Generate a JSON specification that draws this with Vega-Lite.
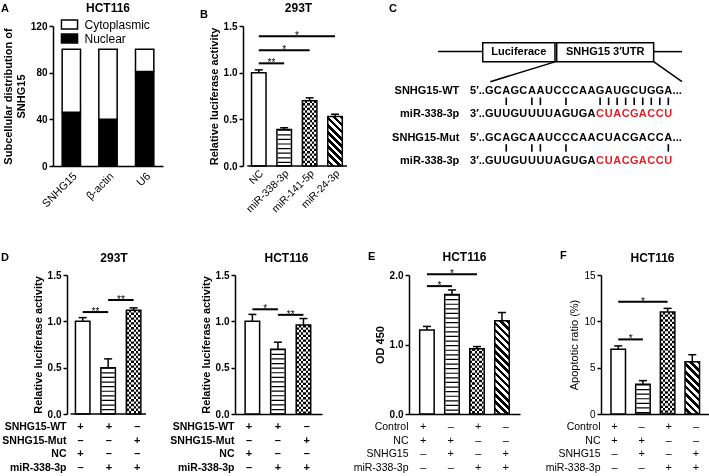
{
"$schema":"https://vega.github.io/schema/vega-lite/v6.json",
"background":"#ffffff",
"padding":{"left":1,"top":2,"right":0,"bottom":0},
"config":{
 "font":"Liberation Sans",
 "view":{"stroke":null},
 "axis":{"domainColor":"#000","domainWidth":1.5,"tickColor":"#000","tickWidth":1.5,"tickSize":4,"labelColor":"#000","labelFontSize":10,"labelFontWeight":"bold","labelPadding":2,"titleColor":"#000","titleFontSize":11,"titleFontWeight":"bold","titlePadding":4,"grid":false,"labelFlush":false},
 "title":{"color":"#000","fontSize":12,"fontWeight":"bold","frame":"group"},
 "text":{"color":"#000"}
},
"datasets":{
 "a":[{"gene":"SNHG15","fraction":"Nuclear","value":46},{"gene":"SNHG15","fraction":"Cytoplasmic","value":54},{"gene":"β-actin","fraction":"Nuclear","value":40},{"gene":"β-actin","fraction":"Cytoplasmic","value":60},{"gene":"U6","fraction":"Nuclear","value":81},{"gene":"U6","fraction":"Cytoplasmic","value":19}],
 "b":[{"pos":1,"group":"NC","value":1.0,"upper":1.03},{"pos":2,"group":"miR-338-3p","value":0.39,"upper":0.41},{"pos":3,"group":"miR-141-5p","value":0.70,"upper":0.73},{"pos":4,"group":"miR-24-3p","value":0.53,"upper":0.555}],
 "b_sig":[{"from":1,"to":2,"level":1.10,"label":"**"},{"from":1,"to":3,"level":1.24,"label":"*"},{"from":1,"to":4,"level":1.39,"label":"*"}],
 "d1":[{"pos":1,"value":1.0,"upper":1.04},{"pos":2,"value":0.50,"upper":0.595},{"pos":3,"value":1.12,"upper":1.145}],
 "d1_sig":[{"from":1,"to":2,"level":1.10,"label":"**"},{"from":2,"to":3,"level":1.23,"label":"**"}],
 "d2":[{"pos":1,"value":1.0,"upper":1.075},{"pos":2,"value":0.70,"upper":0.775},{"pos":3,"value":0.96,"upper":1.03}],
 "d2_sig":[{"from":1,"to":2,"level":1.13,"label":"*"},{"from":2,"to":3,"level":1.07,"label":"**"}],
 "e":[{"pos":1,"value":1.21,"upper":1.26},{"pos":2,"value":1.72,"upper":1.785},{"pos":3,"value":0.94,"upper":0.97},{"pos":4,"value":1.34,"upper":1.46}],
 "e_sig":[{"from":1,"to":2,"level":1.84,"label":"*"},{"from":1,"to":3,"level":2.01,"label":"*"}],
 "f":[{"pos":1,"value":7.0,"upper":7.35},{"pos":2,"value":3.2,"upper":3.6},{"pos":3,"value":11.0,"upper":11.4},{"pos":4,"value":5.65,"upper":6.4}],
 "f_sig":[{"from":1,"to":2,"level":8.05,"label":"*"},{"from":1,"to":3,"level":12.1,"label":"*"}],
 "d_tab":[{"row":"SNHG15-WT","pos":1,"sym":"+"},{"row":"SNHG15-WT","pos":2,"sym":"+"},{"row":"SNHG15-WT","pos":3,"sym":"–"},{"row":"SNHG15-Mut","pos":1,"sym":"–"},{"row":"SNHG15-Mut","pos":2,"sym":"–"},{"row":"SNHG15-Mut","pos":3,"sym":"+"},{"row":"NC","pos":1,"sym":"+"},{"row":"NC","pos":2,"sym":"–"},{"row":"NC","pos":3,"sym":"–"},{"row":"miR-338-3p","pos":1,"sym":"–"},{"row":"miR-338-3p","pos":2,"sym":"+"},{"row":"miR-338-3p","pos":3,"sym":"+"}],
 "ef_tab":[{"row":"Control","pos":1,"sym":"+"},{"row":"Control","pos":2,"sym":"–"},{"row":"Control","pos":3,"sym":"+"},{"row":"Control","pos":4,"sym":"–"},{"row":"NC","pos":1,"sym":"+"},{"row":"NC","pos":2,"sym":"+"},{"row":"NC","pos":3,"sym":"–"},{"row":"NC","pos":4,"sym":"–"},{"row":"SNHG15","pos":1,"sym":"–"},{"row":"SNHG15","pos":2,"sym":"+"},{"row":"SNHG15","pos":3,"sym":"–"},{"row":"SNHG15","pos":4,"sym":"+"},{"row":"miR-338-3p","pos":1,"sym":"–"},{"row":"miR-338-3p","pos":2,"sym":"–"},{"row":"miR-338-3p","pos":3,"sym":"+"},{"row":"miR-338-3p","pos":4,"sym":"+"}],
 "c_lines":[{"x":-6,"y":-0.69,"x2":-0.76,"y2":-0.69},{"x":19.28,"y":-0.69,"x2":22.6,"y2":-0.69},{"x":7.8,"y":-0.26,"x2":0.13,"y2":0.6},{"x":19.28,"y":-0.26,"x2":22.6,"y2":0.6}],
 "c_boxes":[{"label":"Luciferace","x":-0.76,"x2":7.71,"y":-1.07,"y2":-0.26,"cx":3.47,"cy":-0.665},{"label":"SNHG15 3′UTR","x":7.91,"x2":19.28,"y":-1.07,"y2":-0.26,"cx":13.6,"cy":-0.665}],
 "c_rows":[{"r":1,"name":"SNHG15-WT","pre":"5′..","suf":"..."},{"r":2,"name":"miR-338-3p","pre":"3′..","suf":""},{"r":3,"name":"SNHG15-Mut","pre":"5′..","suf":"..."},{"r":4,"name":"miR-338-3p","pre":"3′..","suf":""}],
 "c_pairs":[{"r":1,"c":2},{"r":1,"c":5},{"r":1,"c":6},{"r":1,"c":9},{"r":1,"c":13},{"r":1,"c":14},{"r":1,"c":15},{"r":1,"c":16},{"r":1,"c":17},{"r":1,"c":18},{"r":1,"c":19},{"r":1,"c":20},{"r":1,"c":21},{"r":3,"c":2},{"r":3,"c":5},{"r":3,"c":6},{"r":3,"c":9},{"r":3,"c":21}],
 "c_seq":[
  {"r":1,"c":0,"n":"G"},{"r":1,"c":1,"n":"C"},{"r":1,"c":2,"n":"A"},{"r":1,"c":3,"n":"G"},{"r":1,"c":4,"n":"C"},{"r":1,"c":5,"n":"A"},{"r":1,"c":6,"n":"A"},{"r":1,"c":7,"n":"U"},{"r":1,"c":8,"n":"C"},{"r":1,"c":9,"n":"C"},{"r":1,"c":10,"n":"C"},{"r":1,"c":11,"n":"A"},{"r":1,"c":12,"n":"A"},{"r":1,"c":13,"n":"G"},{"r":1,"c":14,"n":"A"},{"r":1,"c":15,"n":"U"},{"r":1,"c":16,"n":"G"},{"r":1,"c":17,"n":"C"},{"r":1,"c":18,"n":"U"},{"r":1,"c":19,"n":"G"},{"r":1,"c":20,"n":"G"},{"r":1,"c":21,"n":"A"},
  {"r":2,"c":0,"n":"G"},{"r":2,"c":1,"n":"U"},{"r":2,"c":2,"n":"U"},{"r":2,"c":3,"n":"G"},{"r":2,"c":4,"n":"U"},{"r":2,"c":5,"n":"U"},{"r":2,"c":6,"n":"U"},{"r":2,"c":7,"n":"U"},{"r":2,"c":8,"n":"A"},{"r":2,"c":9,"n":"G"},{"r":2,"c":10,"n":"U"},{"r":2,"c":11,"n":"G"},{"r":2,"c":12,"n":"A"},{"r":2,"c":13,"n":"C","s":1},{"r":2,"c":14,"n":"U","s":1},{"r":2,"c":15,"n":"A","s":1},{"r":2,"c":16,"n":"C","s":1},{"r":2,"c":17,"n":"G","s":1},{"r":2,"c":18,"n":"A","s":1},{"r":2,"c":19,"n":"C","s":1},{"r":2,"c":20,"n":"C","s":1},{"r":2,"c":21,"n":"U","s":1},
  {"r":3,"c":0,"n":"G"},{"r":3,"c":1,"n":"C"},{"r":3,"c":2,"n":"A"},{"r":3,"c":3,"n":"G"},{"r":3,"c":4,"n":"C"},{"r":3,"c":5,"n":"A"},{"r":3,"c":6,"n":"A"},{"r":3,"c":7,"n":"U"},{"r":3,"c":8,"n":"C"},{"r":3,"c":9,"n":"C"},{"r":3,"c":10,"n":"C"},{"r":3,"c":11,"n":"A"},{"r":3,"c":12,"n":"A"},{"r":3,"c":13,"n":"C"},{"r":3,"c":14,"n":"U"},{"r":3,"c":15,"n":"A"},{"r":3,"c":16,"n":"C"},{"r":3,"c":17,"n":"G"},{"r":3,"c":18,"n":"A"},{"r":3,"c":19,"n":"C"},{"r":3,"c":20,"n":"C"},{"r":3,"c":21,"n":"A"},
  {"r":4,"c":0,"n":"G"},{"r":4,"c":1,"n":"U"},{"r":4,"c":2,"n":"U"},{"r":4,"c":3,"n":"G"},{"r":4,"c":4,"n":"U"},{"r":4,"c":5,"n":"U"},{"r":4,"c":6,"n":"U"},{"r":4,"c":7,"n":"U"},{"r":4,"c":8,"n":"A"},{"r":4,"c":9,"n":"G"},{"r":4,"c":10,"n":"U"},{"r":4,"c":11,"n":"G"},{"r":4,"c":12,"n":"A"},{"r":4,"c":13,"n":"C","s":1},{"r":4,"c":14,"n":"U","s":1},{"r":4,"c":15,"n":"A","s":1},{"r":4,"c":16,"n":"C","s":1},{"r":4,"c":17,"n":"G","s":1},{"r":4,"c":18,"n":"A","s":1},{"r":4,"c":19,"n":"C","s":1},{"r":4,"c":20,"n":"C","s":1},{"r":4,"c":21,"n":"U","s":1}
 ]
},
"columns":8,
"spacing":{"row":6,"column":0},
"bounds":"flush",
"align":{"row":"each","column":"each"},
"concat":[
 {"width":52,"height":140,"data":{"values":[]},"mark":{"type":"rect","opacity":0},"title":{"text":"A","anchor":"start","fontSize":11,"offset":12.5,"dx":0}},
 {"width":110,"height":140,
  "title":{"text":"HCT116","offset":6},
  "data":{"name":"a"},
  "mark":{"type":"bar","stroke":"#000","strokeWidth":1.5},
  "encoding":{
   "x":{"field":"gene","type":"nominal","sort":["SNHG15","β-actin","U6"],"scale":{"paddingInner":0.5,"paddingOuter":0.25},"axis":{"title":null,"labelAngle":-45,"ticks":false,"labelFontSize":11,"labelFontWeight":"normal","labelPadding":4}},
   "y":{"field":"value","type":"quantitative","stack":"zero","scale":{"domain":[0,120],"nice":false},"axis":{"values":[0,40,80,120],"title":["Subcellular distribution of","SNHG15"]}},
   "color":{"field":"fraction","type":"nominal","scale":{"domain":["Cytoplasmic","Nuclear"],"range":["#ffffff","#000000"]},"legend":{"orient":"none","legendX":62,"legendY":-8,"padding":0,"title":null,"symbolType":"M-1.4,-0.77H1.4V0.77H-1.4Z","symbolSize":132,"symbolStrokeColor":"#000","symbolStrokeWidth":1.5,"labelFontSize":12,"labelFontWeight":"normal","labelColor":"#000","labelOffset":8.5,"rowPadding":-1}},
   "order":{"field":"fraction","sort":"descending"}
  }},
 {"width":72,"height":140,"data":{"values":[]},"mark":{"type":"rect","opacity":0},"title":{"text":"B","anchor":"start","fontSize":11,"offset":6,"dx":37}},
 {"width":117,"height":140,
  "title":{"text":"293T","offset":6,"dx":5},
  "layer":[
   {"data":{"name":"b"},"mark":{"type":"bar","orient":"vertical","size":14.5,"fill":"#fff"},
    "encoding":{"x":{"field":"pos","type":"quantitative","scale":{"domain":[0.262,4.47],"nice":false,"zero":false},"axis":null},
     "y":{"field":"value","type":"quantitative","scale":{"domain":[0,1.5],"nice":false},"axis":{"values":[0,0.5,1,1.5],"format":".1f","title":"Relative luciferase activity","offset":-8}}}},
   {"data":{"values":[{}]},"mark":{"type":"rule","strokeWidth":1.5,"color":"#000"},"encoding":{"x":{"datum":0.55},"x2":{"datum":4.47},"y":{"datum":0}}},
   {"data":{"name":"b"},"mark":{"type":"text","angle":315,"align":"right","baseline":"middle","fontSize":10.5,"color":"#000","xOffset":3,"yOffset":6},"encoding":{"x":{"field":"pos","type":"quantitative"},"y":{"datum":0},"text":{"field":"group"}}},
   {"data":{"name":"b"},"transform":[{"filter":"datum.pos == 2"}],"mark":{"type":"rule","strokeWidth":13,"strokeDash":[1.2,3.4],"color":"#000"},"encoding":{"x":{"field":"pos","type":"quantitative"},"y":{"field":"value","type":"quantitative"},"y2":{"datum":0}}},
   {"data":{"name":"b"},"transform":[{"filter":"datum.pos == 3"}],"mark":{"type":"rule","strokeWidth":13,"strokeDash":[2.4,2.4],"color":"#000"},"encoding":{"x":{"field":"pos","type":"quantitative"},"y":{"field":"value","type":"quantitative"},"y2":{"datum":0}}},
   {"data":{"name":"b"},"transform":[{"filter":"datum.pos == 3"}],"mark":{"type":"bar","orient":"vertical","size":14.5,"blend":"difference","fill":{"gradient":"linear","x1":0,"y1":0,"x2":1,"y2":0,"stops":[{"offset":0,"color":"#fff"},{"offset":0.1667,"color":"#fff"},{"offset":0.1667,"color":"#000"},{"offset":0.3333,"color":"#000"},{"offset":0.3333,"color":"#fff"},{"offset":0.5,"color":"#fff"},{"offset":0.5,"color":"#000"},{"offset":0.6667,"color":"#000"},{"offset":0.6667,"color":"#fff"},{"offset":0.8333,"color":"#fff"},{"offset":0.8333,"color":"#000"},{"offset":1,"color":"#000"}]}},"encoding":{"x":{"field":"pos","type":"quantitative"},"y":{"field":"value","type":"quantitative"}}},
   {"data":{"name":"b"},"transform":[{"filter":"datum.pos == 4"}],"mark":{"type":"bar","orient":"vertical","size":14.5,"fill":{"gradient":"linear","x1":0,"y1":1,"x2":0.349,"y2":-0.191,"stops":[{"offset":0,"color":"#fff"},{"offset":0.0556,"color":"#fff"},{"offset":0.0556,"color":"#000"},{"offset":0.1111,"color":"#000"},{"offset":0.1111,"color":"#fff"},{"offset":0.1667,"color":"#fff"},{"offset":0.1667,"color":"#000"},{"offset":0.2222,"color":"#000"},{"offset":0.2222,"color":"#fff"},{"offset":0.2778,"color":"#fff"},{"offset":0.2778,"color":"#000"},{"offset":0.3333,"color":"#000"},{"offset":0.3333,"color":"#fff"},{"offset":0.3889,"color":"#fff"},{"offset":0.3889,"color":"#000"},{"offset":0.4444,"color":"#000"},{"offset":0.4444,"color":"#fff"},{"offset":0.5,"color":"#fff"},{"offset":0.5,"color":"#000"},{"offset":0.5556,"color":"#000"},{"offset":0.5556,"color":"#fff"},{"offset":0.6111,"color":"#fff"},{"offset":0.6111,"color":"#000"},{"offset":0.6667,"color":"#000"},{"offset":0.6667,"color":"#fff"},{"offset":0.7222,"color":"#fff"},{"offset":0.7222,"color":"#000"},{"offset":0.7778,"color":"#000"},{"offset":0.7778,"color":"#fff"},{"offset":0.8333,"color":"#fff"},{"offset":0.8333,"color":"#000"},{"offset":0.8889,"color":"#000"},{"offset":0.8889,"color":"#fff"},{"offset":0.9444,"color":"#fff"},{"offset":0.9444,"color":"#000"},{"offset":1,"color":"#000"}]}},"encoding":{"x":{"field":"pos","type":"quantitative"},"y":{"field":"value","type":"quantitative"}}},
   {"data":{"name":"b"},"mark":{"type":"bar","orient":"vertical","size":14.5,"fillOpacity":0,"stroke":"#000","strokeWidth":1.5},"encoding":{"x":{"field":"pos","type":"quantitative"},"y":{"field":"value","type":"quantitative"}}},
   {"data":{"name":"b"},"mark":{"type":"rule","strokeWidth":1.5,"color":"#000"},"encoding":{"x":{"field":"pos","type":"quantitative"},"y":{"field":"value","type":"quantitative"},"y2":{"field":"upper"}}},
   {"data":{"name":"b"},"mark":{"type":"tick","orient":"horizontal","size":8,"thickness":1.5,"color":"#000","opacity":1},"encoding":{"x":{"field":"pos","type":"quantitative"},"y":{"field":"upper","type":"quantitative"}}},
   {"data":{"name":"b_sig"},"mark":{"type":"rule","strokeWidth":2,"color":"#000"},"encoding":{"x":{"field":"from","type":"quantitative"},"x2":{"field":"to"},"y":{"field":"level","type":"quantitative"}}},
   {"data":{"name":"b_sig"},"transform":[{"fold":["from","to"],"as":["end","pos"]}],"mark":{"type":"text","fontSize":10,"color":"#000","baseline":"alphabetic","dy":3},"encoding":{"x":{"aggregate":"mean","field":"pos","type":"quantitative"},"y":{"field":"level","type":"quantitative"},"text":{"field":"label"}}}
  ]},
 {"width":57,"height":140,"data":{"values":[]},"mark":{"type":"rect","opacity":0},"title":{"text":"C","anchor":"start","fontSize":11,"offset":12.5,"dx":37}},
 {"width":111,"height":140,
  "layer":[
   {"data":{"name":"c_lines"},"mark":{"type":"rule","strokeWidth":1.5,"color":"#000"},"encoding":{"x":{"field":"x","type":"quantitative","scale":{"domain":[-9.402,3.611],"nice":false,"zero":false},"axis":null},"y":{"field":"y","type":"quantitative","scale":{"domain":[-1.79,4.22],"nice":false,"zero":false,"reverse":true},"axis":null},"x2":{"field":"x2"},"y2":{"field":"y2"}}},
   {"data":{"name":"c_boxes"},"mark":{"type":"rect","fill":"#fff","stroke":"#000","strokeWidth":1.5},"encoding":{"x":{"field":"x","type":"quantitative"},"x2":{"field":"x2"},"y":{"field":"y","type":"quantitative"},"y2":{"field":"y2"}}},
   {"data":{"name":"c_boxes"},"mark":{"type":"text","fontSize":11,"fontWeight":"bold","color":"#000","baseline":"middle","align":"center"},"encoding":{"x":{"field":"cx","type":"quantitative"},"y":{"field":"cy","type":"quantitative"},"text":{"field":"label"}}},
   {"data":{"name":"c_seq"},"mark":{"type":"text","fontSize":11,"fontWeight":"bold","baseline":"middle","align":"center"},"encoding":{"x":{"field":"c","type":"quantitative"},"y":{"field":"r","type":"quantitative"},"text":{"field":"n"},"color":{"condition":{"test":"datum.s == 1","value":"#e31e24"},"value":"#000"}}},
   {"data":{"name":"c_rows"},"mark":{"type":"text","fontSize":11,"fontWeight":"bold","baseline":"middle","align":"right","color":"#000"},"encoding":{"x":{"datum":-3.5},"y":{"field":"r","type":"quantitative"},"text":{"field":"name"}}},
   {"data":{"name":"c_rows"},"mark":{"type":"text","fontSize":11,"fontWeight":"bold","baseline":"middle","align":"right","color":"#000"},"encoding":{"x":{"datum":-0.5},"y":{"field":"r","type":"quantitative"},"text":{"field":"pre"}}},
   {"data":{"name":"c_rows"},"mark":{"type":"text","fontSize":11,"fontWeight":"bold","baseline":"middle","align":"left","color":"#000"},"encoding":{"x":{"datum":21.5},"y":{"field":"r","type":"quantitative"},"text":{"field":"suf"}}},
   {"data":{"name":"c_pairs"},"mark":{"type":"tick","orient":"vertical","size":7.5,"thickness":1.6,"color":"#000","opacity":1,"yOffset":10.3},"encoding":{"x":{"field":"c","type":"quantitative"},"y":{"field":"r","type":"quantitative"}}}
  ]},
 {"width":81,"height":140,"data":{"values":[]},"mark":{"type":"rect","opacity":0}},
 {"width":1,"height":243,"data":{"values":[]},"mark":{"type":"rect","opacity":0}},

 {"width":52,"height":139,"data":{"values":[]},"mark":{"type":"rect","opacity":0},"title":{"text":"D","anchor":"start","fontSize":11,"offset":12,"dx":0}},
 {"width":98,"height":139,"title":{"text":"293T","offset":5,"dx":12},
  "layer":[
   {"data":{"name":"d1"},"mark":{"type":"bar","orient":"vertical","size":14.5,"fill":"#fff"},
    "encoding":{"x":{"field":"pos","type":"quantitative","scale":{"domain":[0.03,3.487],"nice":false,"zero":false},"axis":null},
     "y":{"field":"value","type":"quantitative","scale":{"domain":[0,1.5],"nice":false},"axis":{"values":[0,0.5,1,1.5],"format":".1f","title":"Relative luciferase activity","offset":-14}}}},
   {"data":{"values":[{}]},"mark":{"type":"rule","strokeWidth":1.5,"color":"#000"},"encoding":{"x":{"datum":0.524},"x2":{"datum":3.487},"y":{"datum":0}}},
   {"data":{"name":"d1"},"transform":[{"filter":"datum.pos == 2"}],"mark":{"type":"rule","strokeWidth":13,"strokeDash":[1.2,3.4],"color":"#000"},"encoding":{"x":{"field":"pos","type":"quantitative"},"y":{"field":"value","type":"quantitative"},"y2":{"datum":0}}},
   {"data":{"name":"d1"},"transform":[{"filter":"datum.pos == 3"}],"mark":{"type":"rule","strokeWidth":13,"strokeDash":[2.4,2.4],"color":"#000"},"encoding":{"x":{"field":"pos","type":"quantitative"},"y":{"field":"value","type":"quantitative"},"y2":{"datum":0}}},
   {"data":{"name":"d1"},"transform":[{"filter":"datum.pos == 3"}],"mark":{"type":"bar","orient":"vertical","size":14.5,"blend":"difference","fill":{"gradient":"linear","x1":0,"y1":0,"x2":1,"y2":0,"stops":[{"offset":0,"color":"#fff"},{"offset":0.1667,"color":"#fff"},{"offset":0.1667,"color":"#000"},{"offset":0.3333,"color":"#000"},{"offset":0.3333,"color":"#fff"},{"offset":0.5,"color":"#fff"},{"offset":0.5,"color":"#000"},{"offset":0.6667,"color":"#000"},{"offset":0.6667,"color":"#fff"},{"offset":0.8333,"color":"#fff"},{"offset":0.8333,"color":"#000"},{"offset":1,"color":"#000"}]}},"encoding":{"x":{"field":"pos","type":"quantitative"},"y":{"field":"value","type":"quantitative"}}},
   {"data":{"name":"d1"},"mark":{"type":"bar","orient":"vertical","size":14.5,"fillOpacity":0,"stroke":"#000","strokeWidth":1.5},"encoding":{"x":{"field":"pos","type":"quantitative"},"y":{"field":"value","type":"quantitative"}}},
   {"data":{"name":"d1"},"mark":{"type":"rule","strokeWidth":1.5,"color":"#000"},"encoding":{"x":{"field":"pos","type":"quantitative"},"y":{"field":"value","type":"quantitative"},"y2":{"field":"upper"}}},
   {"data":{"name":"d1"},"mark":{"type":"tick","orient":"horizontal","size":8,"thickness":1.5,"color":"#000","opacity":1},"encoding":{"x":{"field":"pos","type":"quantitative"},"y":{"field":"upper","type":"quantitative"}}},
   {"data":{"name":"d1_sig"},"mark":{"type":"rule","strokeWidth":2,"color":"#000"},"encoding":{"x":{"field":"from","type":"quantitative"},"x2":{"field":"to"},"y":{"field":"level","type":"quantitative"}}},
   {"data":{"name":"d1_sig"},"transform":[{"fold":["from","to"],"as":["end","pos"]}],"mark":{"type":"text","fontSize":10,"color":"#000","baseline":"alphabetic","dy":3},"encoding":{"x":{"aggregate":"mean","field":"pos","type":"quantitative"},"y":{"field":"level","type":"quantitative"},"text":{"field":"label"}}}
  ]},
 {"width":72,"height":139,"data":{"values":[]},"mark":{"type":"rect","opacity":0}},
 {"width":87,"height":139,"title":{"text":"HCT116","offset":5,"dx":8},
  "layer":[
   {"data":{"name":"d2"},"mark":{"type":"bar","orient":"vertical","size":14.5,"fill":"#fff"},
    "encoding":{"x":{"field":"pos","type":"quantitative","scale":{"domain":[0.515,3.53],"nice":false,"zero":false},"axis":{"labels":false,"ticks":false,"title":null}},
     "y":{"field":"value","type":"quantitative","scale":{"domain":[0,1.5],"nice":false},"axis":{"values":[0,0.5,1,1.5],"format":".1f","title":"Relative luciferase activity"}}}},
   {"data":{"name":"d2"},"transform":[{"filter":"datum.pos == 2"}],"mark":{"type":"rule","strokeWidth":13,"strokeDash":[1.2,3.4],"color":"#000"},"encoding":{"x":{"field":"pos","type":"quantitative"},"y":{"field":"value","type":"quantitative"},"y2":{"datum":0}}},
   {"data":{"name":"d2"},"transform":[{"filter":"datum.pos == 3"}],"mark":{"type":"rule","strokeWidth":13,"strokeDash":[2.4,2.4],"color":"#000"},"encoding":{"x":{"field":"pos","type":"quantitative"},"y":{"field":"value","type":"quantitative"},"y2":{"datum":0}}},
   {"data":{"name":"d2"},"transform":[{"filter":"datum.pos == 3"}],"mark":{"type":"bar","orient":"vertical","size":14.5,"blend":"difference","fill":{"gradient":"linear","x1":0,"y1":0,"x2":1,"y2":0,"stops":[{"offset":0,"color":"#fff"},{"offset":0.1667,"color":"#fff"},{"offset":0.1667,"color":"#000"},{"offset":0.3333,"color":"#000"},{"offset":0.3333,"color":"#fff"},{"offset":0.5,"color":"#fff"},{"offset":0.5,"color":"#000"},{"offset":0.6667,"color":"#000"},{"offset":0.6667,"color":"#fff"},{"offset":0.8333,"color":"#fff"},{"offset":0.8333,"color":"#000"},{"offset":1,"color":"#000"}]}},"encoding":{"x":{"field":"pos","type":"quantitative"},"y":{"field":"value","type":"quantitative"}}},
   {"data":{"name":"d2"},"mark":{"type":"bar","orient":"vertical","size":14.5,"fillOpacity":0,"stroke":"#000","strokeWidth":1.5},"encoding":{"x":{"field":"pos","type":"quantitative"},"y":{"field":"value","type":"quantitative"}}},
   {"data":{"name":"d2"},"mark":{"type":"rule","strokeWidth":1.5,"color":"#000"},"encoding":{"x":{"field":"pos","type":"quantitative"},"y":{"field":"value","type":"quantitative"},"y2":{"field":"upper"}}},
   {"data":{"name":"d2"},"mark":{"type":"tick","orient":"horizontal","size":8,"thickness":1.5,"color":"#000","opacity":1},"encoding":{"x":{"field":"pos","type":"quantitative"},"y":{"field":"upper","type":"quantitative"}}},
   {"data":{"name":"d2_sig"},"mark":{"type":"rule","strokeWidth":2,"color":"#000"},"encoding":{"x":{"field":"from","type":"quantitative"},"x2":{"field":"to"},"y":{"field":"level","type":"quantitative"}}},
   {"data":{"name":"d2_sig"},"transform":[{"fold":["from","to"],"as":["end","pos"]}],"mark":{"type":"text","fontSize":10,"color":"#000","baseline":"alphabetic","dy":3},"encoding":{"x":{"aggregate":"mean","field":"pos","type":"quantitative"},"y":{"field":"level","type":"quantitative"},"text":{"field":"label"}}}
  ]},
 {"width":57,"height":139,"data":{"values":[]},"mark":{"type":"rect","opacity":0},"title":{"text":"E","anchor":"start","fontSize":11,"offset":13.5,"dx":16}},
 {"width":111,"height":139,"title":{"text":"HCT116","offset":5},
  "layer":[
   {"data":{"name":"e"},"mark":{"type":"bar","orient":"vertical","size":14.5,"fill":"#fff"},
    "encoding":{"x":{"field":"pos","type":"quantitative","scale":{"domain":[0.484,4.52],"nice":false,"zero":false},"axis":{"labels":false,"ticks":false,"title":null}},
     "y":{"field":"value","type":"quantitative","scale":{"domain":[0,2],"nice":false},"axis":{"values":[0,0.5,1,1.5,2],"format":".1f","title":"OD 450"}}}},
   {"data":{"name":"e"},"transform":[{"filter":"datum.pos == 2"}],"mark":{"type":"rule","strokeWidth":13,"strokeDash":[1.2,3.4],"color":"#000"},"encoding":{"x":{"field":"pos","type":"quantitative"},"y":{"field":"value","type":"quantitative"},"y2":{"datum":0}}},
   {"data":{"name":"e"},"transform":[{"filter":"datum.pos == 3"}],"mark":{"type":"rule","strokeWidth":13,"strokeDash":[2.4,2.4],"color":"#000"},"encoding":{"x":{"field":"pos","type":"quantitative"},"y":{"field":"value","type":"quantitative"},"y2":{"datum":0}}},
   {"data":{"name":"e"},"transform":[{"filter":"datum.pos == 3"}],"mark":{"type":"bar","orient":"vertical","size":14.5,"blend":"difference","fill":{"gradient":"linear","x1":0,"y1":0,"x2":1,"y2":0,"stops":[{"offset":0,"color":"#fff"},{"offset":0.1667,"color":"#fff"},{"offset":0.1667,"color":"#000"},{"offset":0.3333,"color":"#000"},{"offset":0.3333,"color":"#fff"},{"offset":0.5,"color":"#fff"},{"offset":0.5,"color":"#000"},{"offset":0.6667,"color":"#000"},{"offset":0.6667,"color":"#fff"},{"offset":0.8333,"color":"#fff"},{"offset":0.8333,"color":"#000"},{"offset":1,"color":"#000"}]}},"encoding":{"x":{"field":"pos","type":"quantitative"},"y":{"field":"value","type":"quantitative"}}},
   {"data":{"name":"e"},"transform":[{"filter":"datum.pos == 4"}],"mark":{"type":"bar","orient":"vertical","size":14.5,"fill":{"gradient":"linear","x1":0,"y1":1,"x2":0.1757,"y2":-0.128,"stops":[{"offset":0,"color":"#fff"},{"offset":0.0333,"color":"#fff"},{"offset":0.0333,"color":"#000"},{"offset":0.0667,"color":"#000"},{"offset":0.0667,"color":"#fff"},{"offset":0.1,"color":"#fff"},{"offset":0.1,"color":"#000"},{"offset":0.1333,"color":"#000"},{"offset":0.1333,"color":"#fff"},{"offset":0.1667,"color":"#fff"},{"offset":0.1667,"color":"#000"},{"offset":0.2,"color":"#000"},{"offset":0.2,"color":"#fff"},{"offset":0.2333,"color":"#fff"},{"offset":0.2333,"color":"#000"},{"offset":0.2667,"color":"#000"},{"offset":0.2667,"color":"#fff"},{"offset":0.3,"color":"#fff"},{"offset":0.3,"color":"#000"},{"offset":0.3333,"color":"#000"},{"offset":0.3333,"color":"#fff"},{"offset":0.3667,"color":"#fff"},{"offset":0.3667,"color":"#000"},{"offset":0.4,"color":"#000"},{"offset":0.4,"color":"#fff"},{"offset":0.4333,"color":"#fff"},{"offset":0.4333,"color":"#000"},{"offset":0.4667,"color":"#000"},{"offset":0.4667,"color":"#fff"},{"offset":0.5,"color":"#fff"},{"offset":0.5,"color":"#000"},{"offset":0.5333,"color":"#000"},{"offset":0.5333,"color":"#fff"},{"offset":0.5667,"color":"#fff"},{"offset":0.5667,"color":"#000"},{"offset":0.6,"color":"#000"},{"offset":0.6,"color":"#fff"},{"offset":0.6333,"color":"#fff"},{"offset":0.6333,"color":"#000"},{"offset":0.6667,"color":"#000"},{"offset":0.6667,"color":"#fff"},{"offset":0.7,"color":"#fff"},{"offset":0.7,"color":"#000"},{"offset":0.7333,"color":"#000"},{"offset":0.7333,"color":"#fff"},{"offset":0.7667,"color":"#fff"},{"offset":0.7667,"color":"#000"},{"offset":0.8,"color":"#000"},{"offset":0.8,"color":"#fff"},{"offset":0.8333,"color":"#fff"},{"offset":0.8333,"color":"#000"},{"offset":0.8667,"color":"#000"},{"offset":0.8667,"color":"#fff"},{"offset":0.9,"color":"#fff"},{"offset":0.9,"color":"#000"},{"offset":0.9333,"color":"#000"},{"offset":0.9333,"color":"#fff"},{"offset":0.9667,"color":"#fff"},{"offset":0.9667,"color":"#000"},{"offset":1,"color":"#000"}]}},"encoding":{"x":{"field":"pos","type":"quantitative"},"y":{"field":"value","type":"quantitative"}}},
   {"data":{"name":"e"},"mark":{"type":"bar","orient":"vertical","size":14.5,"fillOpacity":0,"stroke":"#000","strokeWidth":1.5},"encoding":{"x":{"field":"pos","type":"quantitative"},"y":{"field":"value","type":"quantitative"}}},
   {"data":{"name":"e"},"mark":{"type":"rule","strokeWidth":1.5,"color":"#000"},"encoding":{"x":{"field":"pos","type":"quantitative"},"y":{"field":"value","type":"quantitative"},"y2":{"field":"upper"}}},
   {"data":{"name":"e"},"mark":{"type":"tick","orient":"horizontal","size":8,"thickness":1.5,"color":"#000","opacity":1},"encoding":{"x":{"field":"pos","type":"quantitative"},"y":{"field":"upper","type":"quantitative"}}},
   {"data":{"name":"e_sig"},"mark":{"type":"rule","strokeWidth":2,"color":"#000"},"encoding":{"x":{"field":"from","type":"quantitative"},"x2":{"field":"to"},"y":{"field":"level","type":"quantitative"}}},
   {"data":{"name":"e_sig"},"transform":[{"fold":["from","to"],"as":["end","pos"]}],"mark":{"type":"text","fontSize":10,"color":"#000","baseline":"alphabetic","dy":3},"encoding":{"x":{"aggregate":"mean","field":"pos","type":"quantitative"},"y":{"field":"level","type":"quantitative"},"text":{"field":"label"}}}
  ]},
 {"width":81,"height":139,"data":{"values":[]},"mark":{"type":"rect","opacity":0},"title":{"text":"F","anchor":"start","fontSize":11,"offset":14.5,"dx":40}},
 {"width":109,"height":139,"title":{"text":"HCT116","offset":5,"dx":-3},
  "layer":[
   {"data":{"name":"f"},"mark":{"type":"bar","orient":"vertical","size":14.5,"fill":"#fff"},
    "encoding":{"x":{"field":"pos","type":"quantitative","scale":{"domain":[0.504,4.515],"nice":false,"zero":false},"axis":{"labels":false,"ticks":false,"title":null}},
     "y":{"field":"value","type":"quantitative","scale":{"domain":[0,15],"nice":false},"axis":{"values":[0,5,10,15],"title":"Apoptotic ratio (%)","labelFontWeight":"normal","titleFontWeight":"normal"}}}},
   {"data":{"name":"f"},"transform":[{"filter":"datum.pos == 2"}],"mark":{"type":"rule","strokeWidth":13,"strokeDash":[1.2,3.4],"color":"#000"},"encoding":{"x":{"field":"pos","type":"quantitative"},"y":{"field":"value","type":"quantitative"},"y2":{"datum":0}}},
   {"data":{"name":"f"},"transform":[{"filter":"datum.pos == 3"}],"mark":{"type":"rule","strokeWidth":13,"strokeDash":[2.4,2.4],"color":"#000"},"encoding":{"x":{"field":"pos","type":"quantitative"},"y":{"field":"value","type":"quantitative"},"y2":{"datum":0}}},
   {"data":{"name":"f"},"transform":[{"filter":"datum.pos == 3"}],"mark":{"type":"bar","orient":"vertical","size":14.5,"blend":"difference","fill":{"gradient":"linear","x1":0,"y1":0,"x2":1,"y2":0,"stops":[{"offset":0,"color":"#fff"},{"offset":0.1667,"color":"#fff"},{"offset":0.1667,"color":"#000"},{"offset":0.3333,"color":"#000"},{"offset":0.3333,"color":"#fff"},{"offset":0.5,"color":"#fff"},{"offset":0.5,"color":"#000"},{"offset":0.6667,"color":"#000"},{"offset":0.6667,"color":"#fff"},{"offset":0.8333,"color":"#fff"},{"offset":0.8333,"color":"#000"},{"offset":1,"color":"#000"}]}},"encoding":{"x":{"field":"pos","type":"quantitative"},"y":{"field":"value","type":"quantitative"}}},
   {"data":{"name":"f"},"transform":[{"filter":"datum.pos == 4"}],"mark":{"type":"bar","orient":"vertical","size":14.5,"fill":{"gradient":"linear","x1":0,"y1":1,"x2":0.328,"y2":-0.186,"stops":[{"offset":0,"color":"#fff"},{"offset":0.0556,"color":"#fff"},{"offset":0.0556,"color":"#000"},{"offset":0.1111,"color":"#000"},{"offset":0.1111,"color":"#fff"},{"offset":0.1667,"color":"#fff"},{"offset":0.1667,"color":"#000"},{"offset":0.2222,"color":"#000"},{"offset":0.2222,"color":"#fff"},{"offset":0.2778,"color":"#fff"},{"offset":0.2778,"color":"#000"},{"offset":0.3333,"color":"#000"},{"offset":0.3333,"color":"#fff"},{"offset":0.3889,"color":"#fff"},{"offset":0.3889,"color":"#000"},{"offset":0.4444,"color":"#000"},{"offset":0.4444,"color":"#fff"},{"offset":0.5,"color":"#fff"},{"offset":0.5,"color":"#000"},{"offset":0.5556,"color":"#000"},{"offset":0.5556,"color":"#fff"},{"offset":0.6111,"color":"#fff"},{"offset":0.6111,"color":"#000"},{"offset":0.6667,"color":"#000"},{"offset":0.6667,"color":"#fff"},{"offset":0.7222,"color":"#fff"},{"offset":0.7222,"color":"#000"},{"offset":0.7778,"color":"#000"},{"offset":0.7778,"color":"#fff"},{"offset":0.8333,"color":"#fff"},{"offset":0.8333,"color":"#000"},{"offset":0.8889,"color":"#000"},{"offset":0.8889,"color":"#fff"},{"offset":0.9444,"color":"#fff"},{"offset":0.9444,"color":"#000"},{"offset":1,"color":"#000"}]}},"encoding":{"x":{"field":"pos","type":"quantitative"},"y":{"field":"value","type":"quantitative"}}},
   {"data":{"name":"f"},"mark":{"type":"bar","orient":"vertical","size":14.5,"fillOpacity":0,"stroke":"#000","strokeWidth":1.5},"encoding":{"x":{"field":"pos","type":"quantitative"},"y":{"field":"value","type":"quantitative"}}},
   {"data":{"name":"f"},"mark":{"type":"rule","strokeWidth":1.5,"color":"#000"},"encoding":{"x":{"field":"pos","type":"quantitative"},"y":{"field":"value","type":"quantitative"},"y2":{"field":"upper"}}},
   {"data":{"name":"f"},"mark":{"type":"tick","orient":"horizontal","size":8,"thickness":1.5,"color":"#000","opacity":1},"encoding":{"x":{"field":"pos","type":"quantitative"},"y":{"field":"upper","type":"quantitative"}}},
   {"data":{"name":"f_sig"},"mark":{"type":"rule","strokeWidth":2,"color":"#000"},"encoding":{"x":{"field":"from","type":"quantitative"},"x2":{"field":"to"},"y":{"field":"level","type":"quantitative"}}},
   {"data":{"name":"f_sig"},"transform":[{"fold":["from","to"],"as":["end","pos"]}],"mark":{"type":"text","fontSize":10,"color":"#000","baseline":"alphabetic","dy":3},"encoding":{"x":{"aggregate":"mean","field":"pos","type":"quantitative"},"y":{"field":"level","type":"quantitative"},"text":{"field":"label"}}}
  ]},

 {"width":52,"height":55,"data":{"values":[]},"mark":{"type":"rect","opacity":0}},
 {"width":98,"height":55,"data":{"name":"d_tab"},
  "mark":{"type":"text","fontSize":11,"fontWeight":"bold","color":"#000","baseline":"middle","align":"center"},
  "encoding":{"x":{"field":"pos","type":"quantitative","scale":{"domain":[0.03,3.487],"nice":false,"zero":false},"axis":null},
   "y":{"field":"row","type":"nominal","sort":["SNHG15-WT","SNHG15-Mut","NC","miR-338-3p"],"scale":{"type":"band","paddingInner":0,"paddingOuter":0},"axis":{"title":null,"domain":false,"ticks":false,"labelPadding":1,"labelFontSize":10.5,"labelFontWeight":"bold","offset":-14}},
   "text":{"field":"sym"}}},
 {"width":72,"height":55,"data":{"values":[]},"mark":{"type":"rect","opacity":0}},
 {"width":87,"height":55,"data":{"name":"d_tab"},
  "mark":{"type":"text","fontSize":11,"fontWeight":"bold","color":"#000","baseline":"middle","align":"center"},
  "encoding":{"x":{"field":"pos","type":"quantitative","scale":{"domain":[0.515,3.53],"nice":false,"zero":false},"axis":null},
   "y":{"field":"row","type":"nominal","sort":["SNHG15-WT","SNHG15-Mut","NC","miR-338-3p"],"scale":{"type":"band","paddingInner":0,"paddingOuter":0},"axis":{"title":null,"domain":false,"ticks":false,"labelPadding":1,"labelFontSize":10.5,"labelFontWeight":"bold"}},
   "text":{"field":"sym"}}},
 {"width":57,"height":55,"data":{"values":[]},"mark":{"type":"rect","opacity":0}},
 {"width":111,"height":55,"data":{"name":"ef_tab"},
  "mark":{"type":"text","fontSize":11,"color":"#000","baseline":"middle","align":"center"},
  "encoding":{"x":{"field":"pos","type":"quantitative","scale":{"domain":[0.484,4.52],"nice":false,"zero":false},"axis":null},
   "y":{"field":"row","type":"nominal","sort":["Control","NC","SNHG15","miR-338-3p"],"scale":{"type":"band","paddingInner":0,"paddingOuter":0},"axis":{"title":null,"domain":false,"ticks":false,"labelPadding":1,"labelFontSize":10.5,"labelFontWeight":"normal"}},
   "text":{"field":"sym"}}},
 {"width":81,"height":55,"data":{"values":[]},"mark":{"type":"rect","opacity":0}},
 {"width":109,"height":55,"data":{"name":"ef_tab"},
  "mark":{"type":"text","fontSize":11,"color":"#000","baseline":"middle","align":"center"},
  "encoding":{"x":{"field":"pos","type":"quantitative","scale":{"domain":[0.504,4.515],"nice":false,"zero":false},"axis":null},
   "y":{"field":"row","type":"nominal","sort":["Control","NC","SNHG15","miR-338-3p"],"scale":{"type":"band","paddingInner":0,"paddingOuter":0},"axis":{"title":null,"domain":false,"ticks":false,"labelPadding":1,"labelFontSize":10.5,"labelFontWeight":"normal"}},
   "text":{"field":"sym"}}}
]
}
